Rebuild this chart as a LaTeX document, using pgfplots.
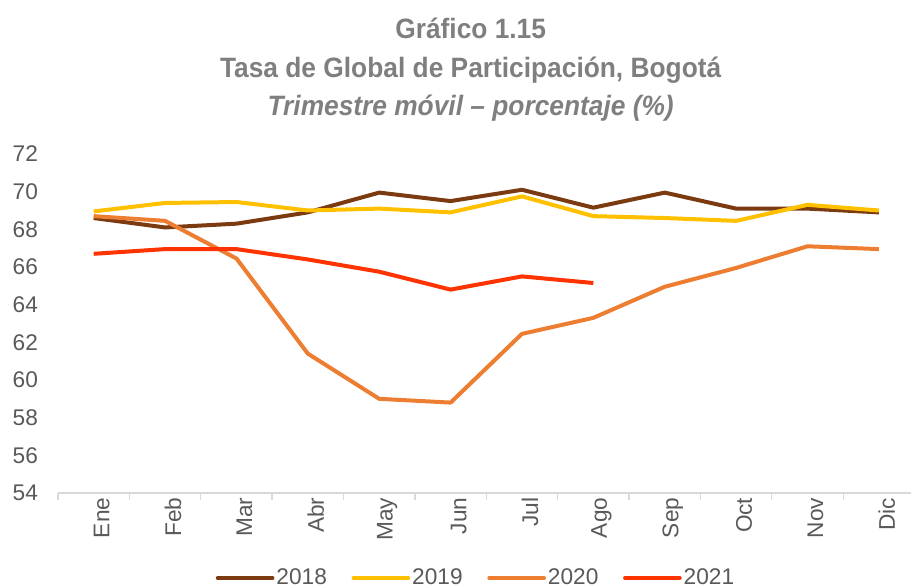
\documentclass[border=0pt]{standalone}
\usepackage{pgfplots}
\pgfplotsset{compat=1.18}
\usepackage{pgfplotstable}
\usepackage{fontspec}
\setmainfont{Liberation Sans}
\newfontfamily\titlefont[FakeStretch=0.94]{Liberation Sans}
\definecolor{c18}{HTML}{7B3A0F}
\definecolor{c19}{HTML}{FFC000}
\definecolor{c20}{HTML}{ED7D31}
\definecolor{c21}{HTML}{FF3300}
\definecolor{txt}{HTML}{595959}
\definecolor{ttl}{HTML}{7F7F7F}
\definecolor{axl}{HTML}{D9D9D9}
\pgfplotstableread{
x y18 y19 y20
0 68.6 68.95 68.7
1 68.1 69.4 68.45
2 68.3 69.45 66.45
3 68.9 69.0 61.4
4 69.95 69.1 59.0
5 69.5 68.9 58.8
6 70.1 69.75 62.45
7 69.15 68.7 63.3
8 69.95 68.6 64.95
9 69.1 68.45 65.95
10 69.1 69.3 67.1
11 68.9 69.0 66.95
}\datatab
\pgfplotstableread{
x y21
0 66.7
1 66.95
2 66.95
3 66.4
4 65.75
5 64.8
6 65.5
7 65.15
}\datatabb
\begin{document}
\begin{tikzpicture}
\path[use as bounding box] (0,0) rectangle (683.25pt,441pt);
\node[font=\titlefont\fontsize{21}{23}\selectfont\bfseries, text=ttl] at (353pt,420pt) {Gráfico 1.15};
\node[font=\titlefont\fontsize{21}{23}\selectfont\bfseries, text=ttl] at (353pt,388.5pt) {Tasa de Global de Participación, Bogotá};
\node[font=\titlefont\fontsize{21}{23}\selectfont\bfseries\itshape, text=ttl] at (353pt,360pt) {Trimestre móvil – porcentaje (\%)};
\begin{axis}[
  at={(43.5pt,71.25pt)}, anchor=south west, scale only axis,
  width=639.75pt, height=254.25pt,
  xmin=-0.5, xmax=11.45, ymin=54, ymax=72,
  ytick={54,56,...,72},
  xtick={0,...,11},
  xticklabels={Ene,Feb,Mar,Abr,May,Jun,Jul,Ago,Sep,Oct,Nov,Dic},
  minor xtick={-0.5,0.5,...,10.5},
  axis x line*=bottom, axis y line*=left,
  y axis line style={draw=none},
  x axis line style={draw=axl, line width=1pt},
  major tick length=0pt,
  minor tick length=5.25pt,
  tick align=outside,
  minor tick style={draw=axl, line width=1pt},
  ytick style={draw=none},
  tick label style={font=\fontsize{17}{19}\selectfont, text=txt},
  /pgf/number format/assume math mode=true,
  y tick label style={anchor=east, xshift=-11.5pt},
  x tick label style={rotate=90, anchor=east},
  every x tick label/.append style={yshift=-6pt},
  legend style={at={(0.49,-0.2507)}, anchor=center, draw=none, fill=none,
    legend columns=4, font=\fontsize{17}{19}\selectfont, text=txt,
    nodes={inner sep=1.5pt},
    /tikz/every even column/.append style={column sep=17pt}},
  legend image code/.code={\draw[#1, line width=3pt, line cap=round] (0pt,0pt) -- (41pt,0pt);},
  every axis plot/.append style={line width=3pt, line join=round},
]
\addplot[c18] table[x=x,y=y18] {\datatab};
\addlegendentry{2018}
\addplot[c19] table[x=x,y=y19] {\datatab};
\addlegendentry{2019}
\addplot[c20] table[x=x,y=y20] {\datatab};
\addlegendentry{2020}
\addplot[c21] table[x=x,y=y21] {\datatabb};
\addlegendentry{2021}
\end{axis}
\end{tikzpicture}
\end{document}
